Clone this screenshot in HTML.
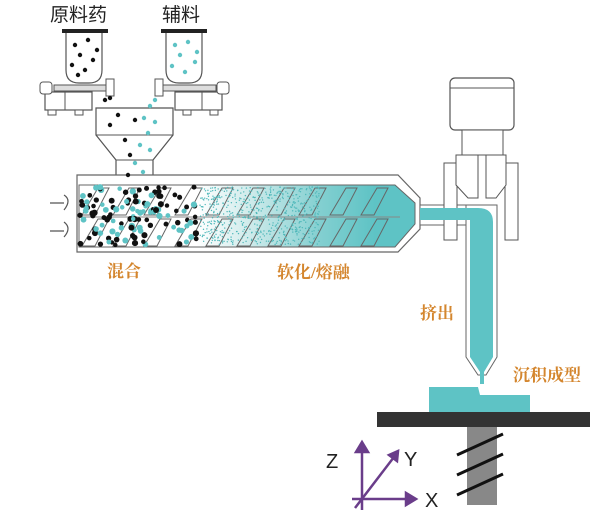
<!DOCTYPE html>
<html><head><meta charset="utf-8"><style>
html,body{margin:0;padding:0;background:#fff;}
svg{display:block}
.t{font-family:"Liberation Sans","Noto Sans CJK SC",sans-serif;}
.o{fill:#d4862e;font-weight:bold;font-family:"Liberation Serif","Noto Serif CJK SC",serif;font-size:17px}
</style></head><body>
<svg id="s" width="614" height="519" viewBox="0 0 614 519" xmlns="http://www.w3.org/2000/svg">
<defs>
<linearGradient id="g" x1="0" x2="1" y1="0" y2="0">
<stop offset="0" stop-color="#fff"/>
<stop offset="0.35" stop-color="#fff"/>
<stop offset="0.5" stop-color="#d2ecec"/>
<stop offset="0.72" stop-color="#82cfd0"/>
<stop offset="0.88" stop-color="#5ec3c5"/>
<stop offset="1" stop-color="#5ec3c5"/>
</linearGradient>
</defs>
<text x="50" y="21" class="t" font-size="19" fill="#222">原料药</text>
<text x="162" y="21" class="t" font-size="19" fill="#222">辅料</text>
<rect x="62" y="29" width="46" height="4" fill="#222"/>
<path d="M66 33 V70 Q66 83 79 83 H89 Q102 83 102 70 V33" fill="#fff" stroke="#555" stroke-width="1.2"/>
<rect x="45" y="92" width="47" height="18" fill="#fff" stroke="#555" stroke-width="1.2"/>
<line x1="65" y1="92" x2="65" y2="110" stroke="#555"/>
<rect x="48" y="110" width="8" height="5" fill="#fff" stroke="#555"/><rect x="75" y="110" width="8" height="5" fill="#fff" stroke="#555"/>
<rect x="54" y="85" width="52" height="6" fill="#ddd" stroke="#555"/>
<rect x="40" y="82" width="12" height="12" rx="3" fill="#fff" stroke="#555"/>
<path d="M106 79 H114 V96 H106 Z" fill="#fff" stroke="#555"/>
<rect x="161" y="29" width="46" height="4" fill="#222"/>
<path d="M166 33 V70 Q166 83 179 83 H189 Q202 83 202 70 V33" fill="#fff" stroke="#555" stroke-width="1.2"/>
<rect x="175" y="92" width="47" height="18" fill="#fff" stroke="#555" stroke-width="1.2"/>
<line x1="202" y1="92" x2="202" y2="110" stroke="#555"/>
<rect x="183" y="110" width="8" height="5" fill="#fff" stroke="#555"/><rect x="210" y="110" width="8" height="5" fill="#fff" stroke="#555"/>
<rect x="162" y="85" width="54" height="6" fill="#ddd" stroke="#555"/>
<rect x="217" y="82" width="12" height="12" rx="3" fill="#fff" stroke="#555"/>
<path d="M155 79 H163 V96 H155 Z" fill="#fff" stroke="#555"/>
<path d="M96 108 H173 V135 L153 160 V180 H116 V160 L96 135 Z" fill="#fff" stroke="#555" stroke-width="1.2"/>
<line x1="96" y1="135" x2="173" y2="135" stroke="#555"/>
<line x1="116" y1="160" x2="153" y2="160" stroke="#555"/>
<path d="M77 175 H398 L420 198 V229 L398 252 H77 Z" fill="#fff" stroke="#666" stroke-width="1.2"/>
<path d="M79 185 H395 L415 203 V224 L395 247 H79 Z" fill="url(#g)" stroke="#666"/>
<line x1="79" y1="217" x2="400" y2="217" stroke="#888"/>
<g id="flights" fill="none" stroke="#666" stroke-width="1"></g>
<g id="dots"></g>
<rect x="420" y="205" width="50" height="20" fill="#fff" stroke="#666"/>
<rect x="420" y="208" width="50" height="12" fill="#5ec3c5"/>
<rect x="450" y="78" width="64" height="52" rx="5" fill="#fff" stroke="#555" stroke-width="1.2"/>
<line x1="450" y1="88" x2="514" y2="88" stroke="#555"/>
<rect x="462" y="130" width="41" height="25" fill="#fff" stroke="#555"/>
<path d="M444 163 H457 V240 H444 Z" fill="#fff" stroke="#555"/>
<path d="M505 163 H518 V240 H505 Z" fill="#fff" stroke="#555"/>
<path d="M456 155 H478 V198 H468 L456 185 Z" fill="#fff" stroke="#555"/>
<path d="M486 155 H506 V185 L496 198 H486 Z" fill="#fff" stroke="#555"/>
<path d="M466 205 H497 V357 L486 375 H478 L466 357 Z" fill="#fff" stroke="#666"/>
<path d="M420 208 H478 Q493 208 493 222 V357 L484 372 H480 L470 357 V220 H420 Z" fill="#5ec3c5"/>
<rect x="480" y="372" width="4" height="12" fill="#5ec3c5"/>
<path d="M429 387 H478 L480 395 H530 V412 H429 Z" fill="#5ec3c5"/>
<rect x="377" y="412" width="213" height="15" fill="#333"/>
<rect x="467" y="427" width="30" height="78" fill="#888"/>
<g stroke="#111" stroke-width="3"><line x1="457" y1="455" x2="503" y2="434"/><line x1="457" y1="475" x2="503" y2="454"/><line x1="457" y1="495" x2="503" y2="474"/></g>
<g stroke="#6a3d8a" stroke-width="2.5" fill="#6a3d8a">
<line x1="362" y1="510" x2="362" y2="450"/><path d="M356 452 L362 442 L368 452 Z"/>
<line x1="352" y1="499" x2="408" y2="499"/><path d="M406 493 L416 499 L406 505 Z"/>
<line x1="355" y1="508" x2="394" y2="457"/><path d="M389 455 L398 451 L397 461 Z"/>
</g>
<text x="326" y="468" class="t" font-size="20" fill="#222">Z</text>
<text x="404" y="466" class="t" font-size="20" fill="#222">Y</text>
<text x="425" y="507" class="t" font-size="20" fill="#222">X</text>
<g fill="none" stroke="#555" stroke-width="1.2">
<path d="M50 203 H64 M64 195 Q72 200 64 210"/>
<path d="M50 231 H64 M64 222 Q72 228 64 237"/>
</g>
<text x="107" y="277" class="o">混合</text>
<text x="277" y="278" class="o">软化/熔融</text>
<text x="420" y="319" class="o">挤出</text>
<text x="513" y="381" class="o">沉积成型</text>
</svg>
<script>
var ns="http://www.w3.org/2000/svg",f=document.getElementById('flights'),d=document.getElementById('dots');
function el(t,a,p){var e=document.createElementNS(ns,t);for(var k in a)e.setAttribute(k,a[k]);p.appendChild(e);}
for(var r=0;r<2;r++){var y0=188+r*31,y1=y0+27;for(var x=82;x<380;x+=31){
el('path',{d:'M'+x+' '+y1+' L'+(x+16)+' '+y0+' H'+(x+27)+' L'+(x+13)+' '+y1+' Z'},f);}}
var s=7;function rnd(){s=(s*9301+49297)%233280;return s/233280;}
for(var i=0;i<130;i++){var x=80+rnd()*120,y=187+rnd()*58;el('circle',{cx:x,cy:y,r:2.2+rnd(),fill:rnd()<0.5?'#111':'#5ec3c5'},d);}
for(var i=0;i<600;i++){var x=200+rnd()*120,y=187+rnd()*58;el('circle',{cx:x,cy:y,r:0.7,fill:'#4fb8ba'},d);}
var L=[[75,45],[88,40],[80,55],[93,60],[72,65],[85,70],[97,50],[78,75],[118,115],[135,120],[110,125],[125,140],[130,155],[128,175],[105,100],[110,98]];
L.forEach(function(p){el('circle',{cx:p[0],cy:p[1],r:2.2,fill:'#111'},d)});
var R=[[175,45],[188,42],[180,55],[195,62],[172,66],[185,72],[197,52],[144,118],[155,122],[148,133],[140,145],[150,150],[135,163],[143,172],[155,100],[150,106]];
R.forEach(function(p){el('circle',{cx:p[0],cy:p[1],r:2.2,fill:'#5ec3c5'},d)});
</script>
</body></html>
